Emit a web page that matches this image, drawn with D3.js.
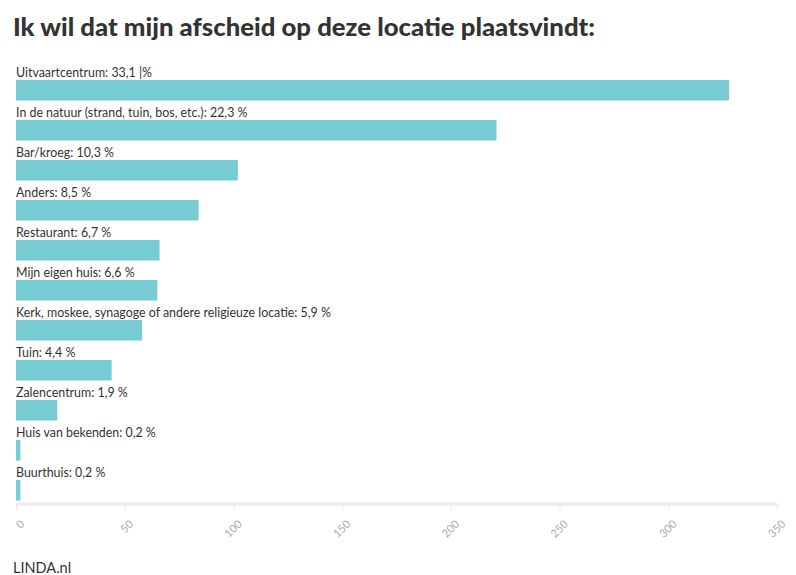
<!DOCTYPE html>
<html><head><meta charset="utf-8">
<script src="https://cdn.jsdelivr.net/npm/d3@7"></script>
<style>
html,body{margin:0;padding:0;background:#fff;}
svg{display:block;}
</style></head>
<body>
<script>
const title = "Ik wil dat mijn afscheid op deze locatie plaatsvindt:";
const categories = ["Uitvaartcentrum","In de natuur (strand, tuin, bos, etc.)","Bar/kroeg","Anders","Restaurant","Mijn eigen huis","Kerk, moskee, synagoge of andere religieuze locatie","Tuin","Zalencentrum","Huis van bekenden","Buurthuis"];
const counts = [328, 221, 102, 84, 66, 65, 58, 44, 19, 2, 2];
const percentLabels = ["33,1 |%","22,3 %","10,3 %","8,5 %","6,7 %","6,6 %","5,9 %","4,4 %","1,9 %","0,2 %","0,2 %"];
const tickValues = [0,50,100,150,200,250,300,350];
const footer = "LINDA.nl";

const W = 796, H = 575;
const svg = d3.select("body").append("svg").attr("width", W).attr("height", H);
const font = "Lato, 'Source Sans Pro', sans-serif";

svg.append("text").attr("x", 13).attr("y", 36)
  .attr("font-family", font).attr("font-weight", 900).attr("font-size", 25)
  .attr("fill", "#333").attr("textLength", 582).attr("lengthAdjust", "spacingAndGlyphs")
  .text(title);

const x = d3.scaleLinear().domain([0, 350]).range([16, 777]);
const y = d3.scaleBand().domain(categories).range([60, 500]).paddingInner(0).paddingOuter(0);

const rows = svg.append("g").selectAll("g").data(categories).join("g")
  .attr("transform", d => `translate(0,${y(d)})`);

rows.append("text").attr("x", 16).attr("y", 16.5)
  .attr("font-family", font).attr("font-size", 12.4).attr("fill", "#333")
  .text((d,i) => `${d}: ${percentLabels[i]}`);

rows.append("rect").attr("x", x(0)).attr("y", 20)
  .attr("width", (d,i) => x(counts[i]) - x(0)).attr("height", 20.5)
  .attr("fill", "#77cbd2");

const axis = d3.axisBottom(x).tickValues(tickValues).tickSize(7).tickPadding(4);
const ax = svg.append("g").attr("transform", "translate(0,504)").call(axis);
ax.select(".domain").attr("stroke", "#ebebeb").attr("stroke-width", 3).attr("d", "M16,0H777");
ax.selectAll(".tick line").attr("stroke", "#ebebeb").attr("stroke-width", 1);
ax.selectAll(".tick text")
  .attr("font-family", font).attr("font-size", 11).attr("fill", "#aaa")
  .attr("text-anchor", "end").attr("dy", "0.35em")
  .attr("transform", "translate(6,18) rotate(-45)");
ax.selectAll(".tick text").attr("y", 0).attr("x", 0);

svg.append("text").attr("x", 13).attr("y", 573)
  .attr("font-family", font).attr("font-size", 14.5).attr("fill", "#333")
  .text(footer);
</script>
</body></html>
